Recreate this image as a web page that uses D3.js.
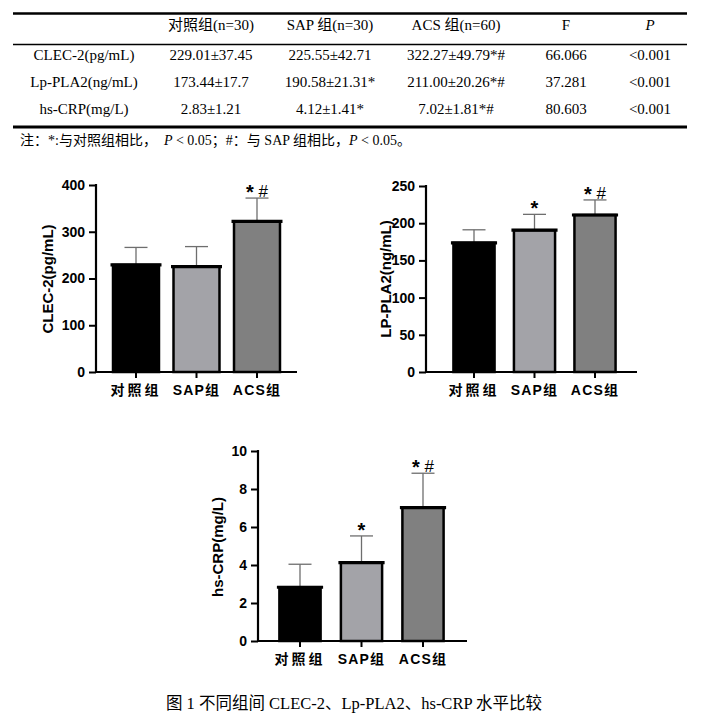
<!DOCTYPE html>
<html><head><meta charset="utf-8">
<script src="https://cdn.jsdelivr.net/npm/d3@7"></script>
<style>
html,body{margin:0;padding:0;background:#fff;}
svg{display:block;}
</style></head>
<body>
<svg id="c" width="727" height="715"></svg>
<script>
// ---- data ----
const groups = ["对照组", "SAP组", "ACS组"];
const clecMean = [229.01, 225.55, 322.27];
const clecSD = [37.45, 42.71, 49.79];
const clecMark = ["", "", "*#"];
const lpMean = [173.44, 190.58, 211.00];
const lpSD = [17.7, 21.31, 20.26];
const lpMark = ["", "*", "*#"];
const crpMean = [2.83, 4.12, 7.02];
const crpSD = [1.21, 1.41, 1.81];
const crpMark = ["", "*", "*#"];
const clecTicks = [0, 100, 200, 300, 400];
const lpTicks = [0, 50, 100, 150, 200, 250];
const crpTicks = [0, 2, 4, 6, 8, 10];

const tableHeader = ["", "对照组(n=30)", "SAP 组(n=30)", "ACS 组(n=60)", "F", "P"];
const tableRows = [
  ["CLEC-2(pg/mL)", "229.01±37.45", "225.55±42.71", "322.27±49.79*#", "66.066", "<0.001"],
  ["Lp-PLA2(ng/mL)", "173.44±17.7", "190.58±21.31*", "211.00±20.26*#", "37.281", "<0.001"],
  ["hs-CRP(mg/L)", "2.83±1.21", "4.12±1.41*", "7.02±1.81*#", "80.603", "<0.001"]
];
const caption = "图 1 不同组间 CLEC-2、Lp-PLA2、hs-CRP 水平比较";
const barColors = ["#000000", "#a3a3a8", "#808080"];

const svg = d3.select("#c");
const serif = "'Liberation Serif','Times New Roman','Noto Sans CJK SC',serif";
const sans = "'Liberation Sans',Arial,'Noto Sans CJK SC',sans-serif";

// ---- table ----
const colX = [84, 211, 330, 456, 566, 650];
svg.append("line").attr("x1", 13).attr("x2", 687).attr("y1", 13.5).attr("y2", 13.5)
  .attr("stroke", "#000").attr("stroke-width", 2.5);
svg.append("line").attr("x1", 13).attr("x2", 687).attr("y1", 44.5).attr("y2", 44.5)
  .attr("stroke", "#000").attr("stroke-width", 1.5);
svg.append("line").attr("x1", 13).attr("x2", 687).attr("y1", 127).attr("y2", 127)
  .attr("stroke", "#000").attr("stroke-width", 3);

svg.append("g").selectAll("text").data(tableHeader).join("text")
  .attr("x", (d, i) => colX[i]).attr("y", 30)
  .attr("text-anchor", "middle").attr("font-family", serif).attr("font-size", 15)
  .attr("font-style", (d, i) => i === 5 ? "italic" : "normal")
  .text(d => d);

const rowY = [60, 87, 114];
tableRows.forEach((row, r) => {
  svg.append("g").selectAll("text").data(row).join("text")
    .attr("x", (d, i) => colX[i]).attr("y", rowY[r])
    .attr("text-anchor", "middle").attr("font-family", serif).attr("font-size", 15)
    .text(d => d);
});

const note = svg.append("text").attr("x", 20).attr("y", 145)
  .attr("font-family", serif).attr("font-size", 14);
note.append("tspan").text("注：*:与对照组相比，　");
note.append("tspan").attr("font-style", "italic").text("P");
note.append("tspan").text(" < 0.05；#：与 SAP 组相比，");
note.append("tspan").attr("font-style", "italic").text("P");
note.append("tspan").text(" < 0.05。");

// ---- charts ----
function barChart(cfg) {
  const g = svg.append("g");
  const y = d3.scaleLinear().domain([0, cfg.max]).range([cfg.y0, cfg.yTop]);
  const x = d3.scaleBand().domain(groups).range(cfg.xr)
    .paddingInner(cfg.pi).paddingOuter(cfg.pi / 2).align(0.5);

  // error bars (behind bars)
  groups.forEach((grp, i) => {
    const cx = x(grp) + x.bandwidth() / 2;
    const top = y(cfg.mean[i] + cfg.sd[i]);
    g.append("line").attr("x1", cx).attr("x2", cx)
      .attr("y1", y(cfg.mean[i])).attr("y2", top)
      .attr("stroke", "#6e6e6e").attr("stroke-width", 1.3);
    g.append("line").attr("x1", cx - 11.5).attr("x2", cx + 11.5)
      .attr("y1", top).attr("y2", top)
      .attr("stroke", "#6e6e6e").attr("stroke-width", 1.3);
    if (cfg.mark[i]) {
      const t = g.append("text").attr("x", cx).attr("y", top - 1)
        .attr("text-anchor", "middle").attr("font-family", sans);
      const parts = cfg.mark[i].split("");
      parts.forEach((p, k) => {
        const ts = t.append("tspan").text((k > 0 ? " " : "") + p);
        if (p === "*") ts.attr("font-size", 20).attr("font-weight", "bold").attr("dy", 2);
        else ts.attr("font-size", 17).attr("font-weight", "normal").attr("dy", -2);
      });
    }
  });

  // bars
  groups.forEach((grp, i) => {
    const bx = x(grp), bw = x.bandwidth();
    const by = y(cfg.mean[i]);
    g.append("rect").attr("x", bx).attr("y", by)
      .attr("width", bw).attr("height", cfg.y0 - by)
      .attr("fill", barColors[i]).attr("stroke", "#000").attr("stroke-width", 2.5);
    g.append("line").attr("x1", bx - 2.5).attr("x2", bx + bw + 2.5)
      .attr("y1", by).attr("y2", by)
      .attr("stroke", "#000").attr("stroke-width", 3.2);
  });

  // y axis
  const ya = g.append("g").attr("transform", `translate(${cfg.ax},0)`)
    .call(d3.axisLeft(y).tickValues(cfg.ticks).tickSize(7).tickPadding(4).tickSizeOuter(0));
  ya.select(".domain").attr("stroke-width", 2.2);
  ya.selectAll(".tick line").attr("stroke-width", 2);
  ya.selectAll("text").attr("font-family", sans).attr("font-size", 14)
    .attr("font-weight", "bold").attr("fill", "#000");
  ya.select(".domain").attr("d", `M0,${cfg.y0 + 1}V${cfg.yTop - 1}`);

  // x axis
  const xa = g.append("g").attr("transform", `translate(0,${cfg.y0})`)
    .call(d3.axisBottom(x).tickSize(6).tickPadding(4).tickSizeOuter(0));
  xa.select(".domain").attr("d", `M${cfg.ax - 1},0H${cfg.xEnd}`).attr("stroke-width", 2.2);
  xa.selectAll(".tick line").attr("stroke-width", 2);
  xa.selectAll("text").attr("font-family", sans).attr("font-size", 14)
    .attr("font-weight", "bold").attr("fill", "#000")
    .attr("letter-spacing", d => d === "对照组" ? 3 : 1.2)
    .attr("dy", "0.95em");

  // y label
  g.append("text").attr("transform", `translate(${cfg.labX},${cfg.labY}) rotate(-90)`)
    .attr("text-anchor", "middle").attr("dy", "0.35em")
    .attr("font-family", sans).attr("font-size", 15).attr("font-weight", "bold")
    .text(cfg.label);
}

barChart({ mean: clecMean, sd: clecSD, mark: clecMark, ticks: clecTicks, max: 400,
  y0: 372, yTop: 185, ax: 96, xEnd: 297, xr: [105.75, 287.25], pi: 0.24,
  label: "CLEC-2(pg/mL)", labX: 48, labY: 279 });
barChart({ mean: lpMean, sd: lpSD, mark: lpMark, ticks: lpTicks, max: 250,
  y0: 372, yTop: 186, ax: 426, xEnd: 637, xr: [443.75, 625.25], pi: 0.32,
  label: "LP-PLA2(ng/mL)", labX: 386, labY: 279 });
barChart({ mean: crpMean, sd: crpSD, mark: crpMark, ticks: crpTicks, max: 10,
  y0: 641, yTop: 451, ax: 258, xEnd: 467, xr: [269.25, 453.75], pi: 0.33,
  label: "hs-CRP(mg/L)", labX: 218, labY: 547 });

// caption
svg.append("text").attr("x", 354).attr("y", 709).attr("text-anchor", "middle")
  .attr("font-family", serif).attr("font-size", 16.5).text(caption);
</script>
</body></html>
